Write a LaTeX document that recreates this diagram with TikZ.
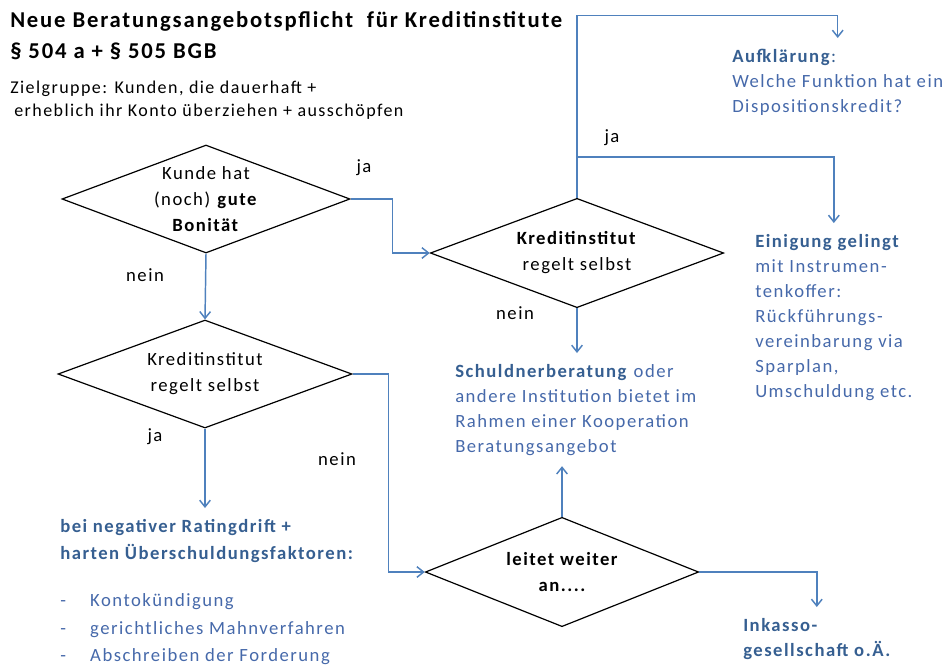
\documentclass[tikz,border=0pt]{standalone}
\usepackage{fontspec}
\setmainfont{Carlito}[LetterSpace=8]
\usetikzlibrary{shapes.geometric,arrows.meta}
\definecolor{flowline}{RGB}{79,129,189}
\definecolor{headblue}{RGB}{54,95,145}
\definecolor{bodyblue}{RGB}{70,105,170}

\begin{document}
\begin{tikzpicture}[x=0.75pt,y=-0.75pt,
    raute/.style={diamond, draw=black, line width=0.9pt, inner sep=0pt},
    rtext/.style={align=center, inner sep=0pt, font=\fontsize{14}{19.5}\selectfont},
    block/.style={align=left, anchor=north west, inner xsep=0pt, inner ysep=8pt, text=bodyblue, font=\fontsize{14}{18.75}\selectfont},
    antwort/.style={inner sep=0pt, font=\fontsize{14}{17}\selectfont},
    pfeil/.style={draw=flowline, line width=1.1pt, -{Straight Barb[length=5pt,width=8pt]}}]
    \useasboundingbox (0,0) rectangle (952,669);

    \node[anchor=north west, inner sep=0pt, align=left, font=\bfseries\fontsize{17}{23.25}\selectfont] (titel) at (10,11)
        {Neue Beratungsangebotspflicht\ \ für Kreditinstitute\\§ 504 a + § 505 BGB};
    \node[anchor=north west, inner sep=0pt, align=left, font=\fontsize{13.5}{17.25}\selectfont] (zielgruppe) at (10,81)
        {Zielgruppe: Kunden, die dauerhaft +\\\hspace*{3pt}erheblich ihr Konto überziehen + ausschöpfen};

    \node[raute, minimum width=216pt, minimum height=81pt] (bonitaet) at (206,199) {};
    \node[rtext] (bonitaet-t) at (bonitaet) {Kunde hat\\(noch) \textbf{gute}\\\textbf{Bonität}};
    \node[raute, minimum width=220pt, minimum height=82pt] (selbst-o) at (577,253) {};
    \node[rtext] (selbst-o-t) at (selbst-o) {\textbf{Kreditinstitut}\\regelt selbst};
    \node[raute, minimum width=220.5pt, minimum height=81pt] (selbst-u) at (205,374) {};
    \node[rtext] (selbst-u-t) at (selbst-u) {Kreditinstitut\\regelt selbst};
    \node[raute, minimum width=205pt, minimum height=82pt] (weiter) at (562,572) {};
    \node[rtext, font=\bfseries\fontsize{14}{19.5}\selectfont] (weiter-t) at (weiter) {leitet weiter\\an....};

    \node[block] (aufkl) at (732,38) {\textcolor{headblue}{\textbf{Aufklärung}:}\\Welche Funktion hat ein\\Dispositionskredit?};
    \node[block] (einig) at (755,223) {\textcolor{headblue}{\textbf{Einigung gelingt}}\\mit Instrumen-\\tenkoffer:\\Rückführungs-\\vereinbarung via\\Sparplan,\\Umschuldung etc.};
    \node[block] (schuld) at (455,353) {\textcolor{headblue}{\textbf{Schuldnerberatung}} oder\\andere Institution bietet im\\Rahmen einer Kooperation\\Beratungsangebot};
    \node[block, text=headblue, font=\bfseries\fontsize{14}{18.75}\selectfont] (inkasso) at (743,607) {Inkasso-\\gesellschaft o.Ä.};
    \node[block, font=\fontsize{14}{20.5}\selectfont] (massn) at (60,508) {\textcolor{headblue}{\textbf{bei negativer Ratingdrift +}}\\\textcolor{headblue}{\textbf{harten Überschuldungsfaktoren:}}\\[15pt]
        \makebox[22.5pt][l]{-}Kontokündigung\\\makebox[22.5pt][l]{-}gerichtliches Mahnverfahren\\\makebox[22.5pt][l]{-}Abschreiben der Forderung};

    \coordinate (gabel) at (selbst-o.north |- 0,157);
    \draw[pfeil] (bonitaet.east) -- ++(42,0) |- (selbst-o.west);
    \draw[pfeil] (bonitaet.south) -- (selbst-u.north);
    \draw[pfeil] (selbst-u.south) -- (selbst-u.south |- massn.north);
    \draw[pfeil] (selbst-u.east) -- ++(36,0) |- (weiter.west);
    \draw[pfeil] (selbst-o.south) -- (selbst-o.south |- schuld.north);
    \draw[pfeil] (weiter.north) -- (weiter.north |- schuld.south);
    \draw[pfeil] (weiter.east) -| (inkasso.north);
    \draw[pfeil] (selbst-o.north) -- ++(0,-182) -| (aufkl.north);
    \draw[pfeil] (gabel) -| (einig.north);

    \node[antwort] (ja1) at (364,168) {ja};
    \node[antwort] (nein1) at (145,275) {nein};
    \node[antwort] (ja2) at (612,138) {ja};
    \node[antwort] (nein2) at (515,313) {nein};
    \node[antwort] (ja3) at (155,437) {ja};
    \node[antwort] (nein3) at (337,459) {nein};
\end{tikzpicture}
\end{document}
